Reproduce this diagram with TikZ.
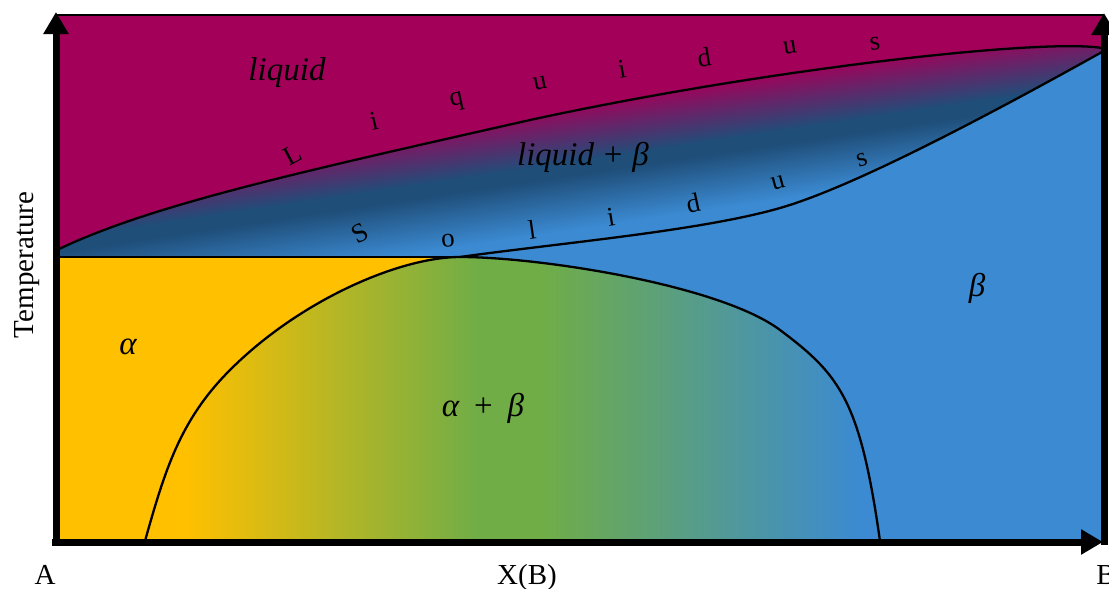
\documentclass[tikz,border=0pt]{standalone}
\usepackage{fontspec}
\setmainfont{Liberation Serif}
\usetikzlibrary{arrows.meta}

\definecolor{liqcol}{HTML}{A3005A}
\definecolor{betacol}{HTML}{3B8AD2}
\definecolor{navycol}{HTML}{1F4E79}
\definecolor{alphacol}{HTML}{FFC000}
\definecolor{greencol}{HTML}{70AD47}

% phase boundaries (pixel coordinates, y downwards)
\newcommand{\liqcurve}{(57,250) .. controls (150,205) and (300,172) .. (530,120) .. controls (760,70) and (1040,38) .. (1102,48)}
\newcommand{\solcurve}{(460,257) .. controls (560,243) and (700,231) .. (780,208) .. controls (850,188) and (980,120) .. (1102,52)}
\newcommand{\domecurve}{(145,541) .. controls (165,470) and (180,420) .. (230,370) .. controls (300,300) and (400,257) .. (460,257) .. controls (540,257) and (720,285) .. (780,330) .. controls (840,375) and (860,400) .. (880,541)}

\begin{document}
\begin{tikzpicture}[x=1pt, y=-1pt, line join=round,
    letter/.style={font=\fontsize{27}{32}\selectfont, inner sep=0pt},
    phase/.style={font=\fontsize{33}{38}\selectfont\itshape, inner sep=0pt},
    axislabel/.style={font=\fontsize{29}{34}\selectfont, inner sep=0pt},
    boundary/.style={line width=2.3pt},
    axis/.style={line width=7pt, -{Triangle[length=22pt, width=24pt]}}]
    \useasboundingbox (0,0) rectangle (1109,589);

    % regions
    \fill[betacol] (57,15) rectangle (1104,541);
    \begin{scope}
        \clip \solcurve -- (1104,52) -- (1104,15) -- (57,15) -- (57,257) -- cycle;
        \begin{scope}[transform canvas={rotate around={8.5:(600,163)}}]
            \fill[liqcol] (-300,-300) rectangle (1500,101);
            \fill[navycol] (-300,155) rectangle (1500,174);
            \shade[top color=liqcol, bottom color=navycol] (-300,98) rectangle (1500,158);
            \shade[top color=navycol, bottom color=betacol] (-300,171) rectangle (1500,225);
        \end{scope}
    \end{scope}
    \fill[liqcol] \liqcurve -- (1104,48) -- (1104,15) -- (57,15) -- cycle;
    \fill[alphacol] (57,257) rectangle (460,541);
    \begin{scope}
        \clip \domecurve -- cycle;
        \fill[alphacol] (140,250) rectangle (188,545);
        \fill[greencol] (475,250) rectangle (545,545);
        \shade[left color=alphacol, right color=greencol] (185,250) rectangle (478,545);
        \shade[left color=greencol, right color=betacol] (542,250) rectangle (860,545);
    \end{scope}

    % boundaries
    \draw[boundary] \liqcurve;
    \draw[boundary] (57,257) -- (460,257);
    \draw[boundary] \solcurve;
    \draw[boundary] \domecurve;

    % frame and axes
    \draw[line width=2pt] (57,15) -- (1104,15);
    \draw[axis] (56,545) -- (56,12);
    \draw[axis] (1104,545) -- (1104,13);
    \draw[axis] (52,542) -- (1103,542);

    % phase labels
    \node[phase] (liq) at (287,73) {liquid};
    \node[phase] (liqbeta) at (583,157) {liquid\hspace{0.3em}\upshape+\hspace{0.3em}\itshape β};
    \node[phase] (alph) at (128,347) {α};
    \node[phase] (alphbeta) at (483,408) {α\hspace{0.45em}\upshape+\hspace{0.45em}\itshape β};
    \node[phase] (bet) at (977,288) {β};

    % Liquidus
    \node[letter, rotate=28] (liqL) at (293,155) {L};
    \node[letter, rotate=13] (liqi) at (374,121) {i};
    \node[letter, rotate=12] (liqq) at (457,102) {q};
    \node[letter, rotate=11] (liqu) at (540,83) {u};
    \node[letter, rotate=10] (liqii) at (622,69) {i};
    \node[letter, rotate=9] (liqd) at (704,57) {d};
    \node[letter, rotate=8] (liquu) at (790,48) {u};
    \node[letter, rotate=6] (liqs) at (875,44) {s};

    % Solidus
    \node[letter, rotate=28] (solS) at (360,233) {S};
    \node[letter, rotate=5] (solo) at (448,241) {o};
    \node[letter, rotate=8] (soll) at (532,230) {l};
    \node[letter, rotate=9] (soli) at (611,217) {i};
    \node[letter, rotate=12] (sold) at (693,203) {d};
    \node[letter, rotate=15] (solu) at (778,183) {u};
    \node[letter, rotate=18] (sols) at (862,160) {s};

    % axis labels
    \node[axislabel, anchor=base] (lblA) at (45,584) {A};
    \node[axislabel, anchor=base] (lblX) at (527,584) {X(B)};
    \node[axislabel, anchor=base] (lblB) at (1106,584) {B};
    \node[axislabel, rotate=90, anchor=base] (lblT) at (33,265) {Temperature};
\end{tikzpicture}
\end{document}
